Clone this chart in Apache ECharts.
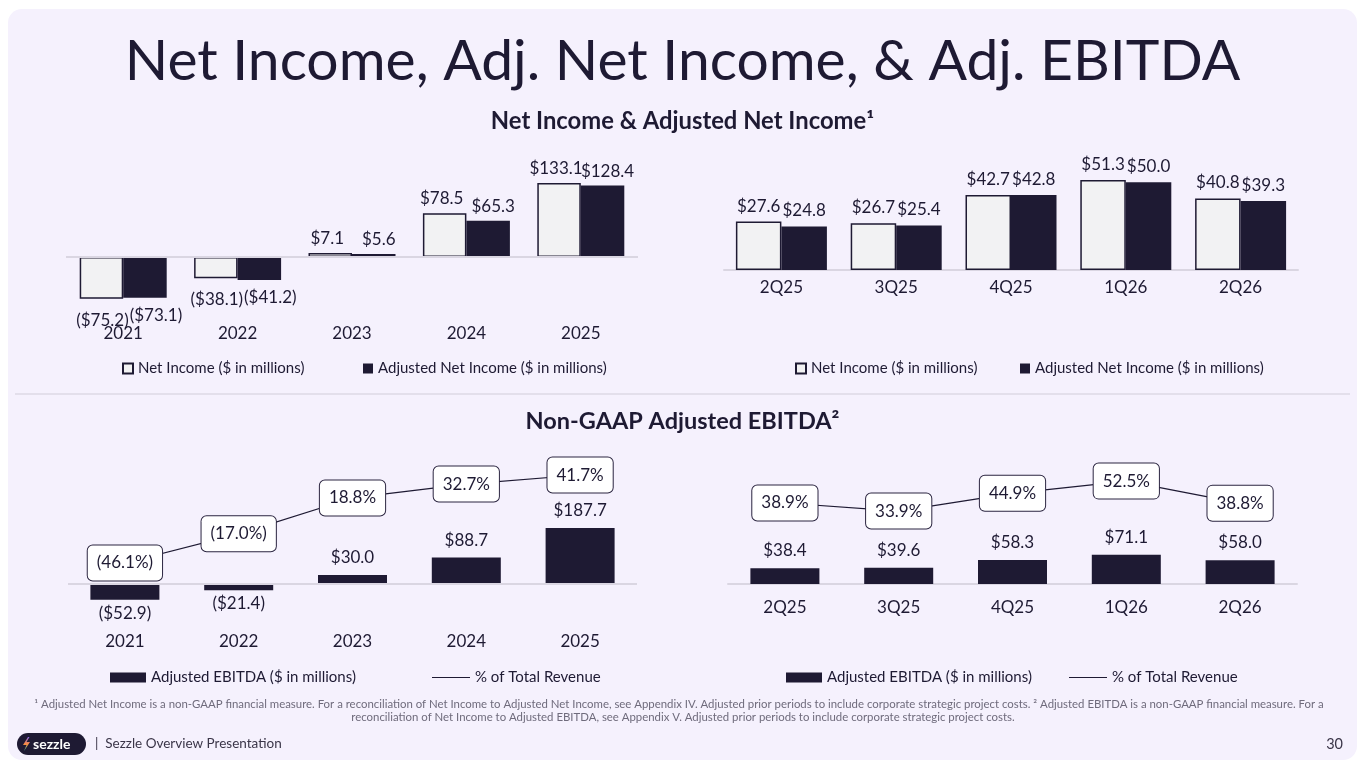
<!DOCTYPE html>
<html>
<head>
<meta charset="utf-8">
<script src="https://cdn.jsdelivr.net/npm/echarts@6/dist/echarts.min.js"></script>
<style>
  html, body { margin:0; padding:0; background:#ffffff; width:1365px; height:768px; overflow:hidden; }
  #panel { position:absolute; left:8px; top:9px; width:1349px; height:751px; background:#f5f1fd; border-radius:14px; }
  #chart { position:absolute; left:0; top:0; width:1365px; height:768px; }
</style>
</head>
<body>
<div id="panel"></div>
<div id="chart"></div>
<script>
// ---------- DATA ----------
const yearCats = ['2021', '2022', '2023', '2024', '2025'];
const quarterCats = ['2Q25', '3Q25', '4Q25', '1Q26', '2Q26'];

const netIncomeAnnual = [-75.2, -38.1, 7.1, 78.5, 133.1];
const adjNetIncomeAnnual = [-73.1, -41.2, 5.6, 65.3, 128.4];

const netIncomeQuarterly = [27.6, 26.7, 42.7, 51.3, 40.8];
const adjNetIncomeQuarterly = [24.8, 25.4, 42.8, 50.0, 39.3];

const adjEbitdaAnnual = [-52.9, -21.4, 30.0, 88.7, 187.7];
const ebitdaMarginAnnual = [-46.1, -17.0, 18.8, 32.7, 41.7];

const adjEbitdaQuarterly = [38.4, 39.6, 58.3, 71.1, 58.0];
const ebitdaMarginQuarterly = [38.9, 33.9, 44.9, 52.5, 38.8];

const NI_NAME = 'Net Income ($ in millions)';
const ANI_NAME = 'Adjusted Net Income ($ in millions)';
const EB_NAME = 'Adjusted EBITDA ($ in millions)';
const PCT_NAME = '% of Total Revenue';

// ---------- STYLE ----------
const DARK = '#1e1a33';
const LIGHT = '#f2f2f3';
const AXIS = '#dad6e2';
const FONT = 'Lato';

function money(v) {
  const a = Math.abs(v).toFixed(1);
  return v < 0 ? '($' + a + ')' : '$' + a;
}
function pct(v) {
  const a = Math.abs(v).toFixed(1);
  return v < 0 ? '(' + a + '%)' : a + '%';
}
function barItems(arr, negDist, negDx) {
  return arr.map(v => v < 0
    ? { value: v, label: { position: 'bottom', distance: negDist, offset: [negDx || 0, 0] } }
    : { value: v });
}
const labelBase = { show: true, position: 'top', fontFamily: FONT, fontSize: 17, color: DARK };

function catAxis(gridIndex, data, margin, onZero) {
  return {
    type: 'category', gridIndex, data,
    axisTick: { show: false },
    axisLine: { show: onZero, onZero: onZero, lineStyle: { color: AXIS, width: 2 } },
    axisLabel: { margin, fontFamily: FONT, fontSize: 17, color: DARK },
    splitLine: { show: false }
  };
}
function valAxis(gridIndex, min, max) {
  return { type: 'value', gridIndex, min, max, show: false, splitLine: { show: false } };
}
const zeroLine = {
  silent: true, symbol: 'none', label: { show: false },
  lineStyle: { color: AXIS, width: 2, type: 'solid' },
  data: [{ yAxis: 0 }]
};
function legendAt(name, left, top, icon, w, h) {
  return {
    data: [{ name, icon }], left, top, padding: 0,
    itemWidth: w, itemHeight: h, selectedMode: false,
    textStyle: { fontFamily: FONT, fontSize: 15, color: DARK }
  };
}
const pctLabel = {
  show: true, position: 'inside', formatter: p => pct(p.value),
  fontFamily: FONT, fontSize: 17, color: DARK, lineHeight: 19,
  backgroundColor: '#ffffff', borderColor: '#2b2540', borderWidth: 1,
  borderRadius: 5, padding: [8, 9, 8, 9]
};

const chart = echarts.init(document.getElementById('chart'));
chart.setOption({
  animation: false,
  textStyle: { fontFamily: FONT },
  grid: [
    { left: 66, top: 150, width: 572, height: 172 },
    { left: 724, top: 150, width: 574, height: 120 },
    { left: 68, top: 460, width: 569, height: 168 },
    { left: 728, top: 460, width: 569, height: 124 }
  ],
  xAxis: [
    catAxis(0, yearCats, 3, false),
    catAxis(1, quarterCats, 9, true),
    catAxis(2, yearCats, 5, false),
    catAxis(3, quarterCats, 15, true)
  ],
  yAxis: [
    valAxis(0, -116.9, 192.4),
    valAxis(1, 0, 68.4),
    valAxis(2, -147.7, 416.1),
    valAxis(2, -111.0, 56.7),
    valAxis(3, 0, 302.4),
    valAxis(3, -11.4, 65.6)
  ],
  legend: [
    legendAt(NI_NAME, 122, 361, 'rect', 10, 10),
    legendAt(ANI_NAME, 363, 361, 'rect', 10, 10),
    legendAt(NI_NAME, 795, 361, 'rect', 10, 10),
    legendAt(ANI_NAME, 1020, 361, 'rect', 10, 10),
    legendAt(EB_NAME, 110, 670, 'rect', 36, 10),
    legendAt(PCT_NAME, 432, 670, 'path://M0,0H100V3H0Z', 38, 10),
    legendAt(EB_NAME, 786, 670, 'rect', 36, 10),
    legendAt(PCT_NAME, 1069, 670, 'path://M0,0H100V3H0Z', 38, 10)
  ],
  series: [
    {
      name: NI_NAME, type: 'bar', xAxisIndex: 0, yAxisIndex: 0,
      barWidth: 43.5, barGap: '0%',
      data: barItems(netIncomeAnnual, 13, 1),
      itemStyle: { color: LIGHT, borderColor: DARK, borderWidth: 1.5 },
      label: Object.assign({}, labelBase, { distance: 6, offset: [-3, 0], formatter: p => money(p.value) }),
      markLine: zeroLine, emphasis: { disabled: true }
    },
    {
      name: ANI_NAME, type: 'bar', xAxisIndex: 0, yAxisIndex: 0,
      barWidth: 43.5, barGap: '0%',
      data: barItems(adjNetIncomeAnnual, 9, 11),
      itemStyle: { color: DARK },
      label: Object.assign({}, labelBase, { distance: 6, offset: [5, 0], formatter: p => money(p.value) }),
      emphasis: { disabled: true }
    },
    {
      name: NI_NAME, type: 'bar', xAxisIndex: 1, yAxisIndex: 1,
      barWidth: 45.5, barGap: '0%',
      data: barItems(netIncomeQuarterly, 8),
      itemStyle: { color: LIGHT, borderColor: DARK, borderWidth: 1.5 },
      label: Object.assign({}, labelBase, { distance: 7, formatter: p => money(p.value) }),
      emphasis: { disabled: true }
    },
    {
      name: ANI_NAME, type: 'bar', xAxisIndex: 1, yAxisIndex: 1,
      barWidth: 45.5, barGap: '0%',
      data: barItems(adjNetIncomeQuarterly, 8),
      itemStyle: { color: DARK },
      label: Object.assign({}, labelBase, { distance: 7, formatter: p => money(p.value) }),
      emphasis: { disabled: true }
    },
    {
      name: EB_NAME, type: 'bar', xAxisIndex: 2, yAxisIndex: 2,
      barWidth: 69,
      data: barItems(adjEbitdaAnnual, 5),
      itemStyle: { color: DARK },
      label: Object.assign({}, labelBase, { distance: 9, formatter: p => money(p.value) }),
      markLine: zeroLine, emphasis: { disabled: true }
    },
    {
      name: PCT_NAME, type: 'line', xAxisIndex: 2, yAxisIndex: 3,
      data: ebitdaMarginAnnual, color: DARK,
      symbol: 'circle', symbolSize: 2,
      lineStyle: { color: DARK, width: 1.2 },
      itemStyle: { color: DARK },
      label: pctLabel, emphasis: { disabled: true }, z: 5
    },
    {
      name: EB_NAME, type: 'bar', xAxisIndex: 3, yAxisIndex: 4,
      barWidth: 69,
      data: barItems(adjEbitdaQuarterly, 5),
      itemStyle: { color: DARK },
      label: Object.assign({}, labelBase, { distance: 9, formatter: p => money(p.value) }),
      emphasis: { disabled: true }
    },
    {
      name: PCT_NAME, type: 'line', xAxisIndex: 3, yAxisIndex: 5,
      data: ebitdaMarginQuarterly, color: DARK,
      symbol: 'circle', symbolSize: 2,
      lineStyle: { color: DARK, width: 1.2 },
      itemStyle: { color: DARK },
      label: pctLabel, emphasis: { disabled: true }, z: 5
    }
  ],
  graphic: [
    { type: 'text', left: 'center', top: 33,
      style: { text: 'Net Income, Adj. Net Income, & Adj. EBITDA', font: '400 57px Lato', fill: DARK } },
    { type: 'text', left: 'center', top: 109,
      style: { text: 'Net Income & Adjusted Net Income¹', font: '700 23.8px Lato', fill: DARK } },
    { type: 'line', shape: { x1: 15, y1: 394, x2: 1350, y2: 394 },
      style: { stroke: '#dcd8e5', lineWidth: 1.5 } },
    { type: 'text', left: 'center', top: 409,
      style: { text: 'Non-GAAP Adjusted EBITDA²', font: '700 23.5px Lato', fill: DARK } },
    { type: 'text', x: 679, y: 704,
      style: { text: '¹ Adjusted Net Income is a non-GAAP financial measure. For a reconciliation of Net Income to Adjusted Net Income, see Appendix IV. Adjusted prior periods to include corporate strategic project costs. ² Adjusted EBITDA is a non-GAAP financial measure. For a',
        font: '400 11.4px Lato', fill: '#6f6b7c', align: 'center', verticalAlign: 'middle' } },
    { type: 'text', x: 683, y: 717,
      style: { text: 'reconciliation of Net Income to Adjusted EBITDA, see Appendix V. Adjusted prior periods to include corporate strategic project costs.',
        font: '400 11.4px Lato', fill: '#6f6b7c', align: 'center', verticalAlign: 'middle' } },
    { type: 'rect', shape: { x: 17, y: 733, width: 69, height: 22, r: 11 },
      style: { fill: DARK } },
    { type: 'polygon', shape: { points: [[28, 737], [23, 745], [26.5, 745], [24, 751], [30, 742], [26.5, 742], [29.5, 737]] },
      style: { fill: new echarts.graphic.LinearGradient(0, 0, 0, 1, [
        { offset: 0, color: '#8a6cf0' }, { offset: 0.5, color: '#ff8a3d' }, { offset: 1, color: '#3fd0a0' }]) } },
    { type: 'text', x: 33, y: 744,
      style: { text: 'sezzle', font: '700 14px Lato', fill: '#ffffff', verticalAlign: 'middle' } },
    { type: 'text', x: 95, y: 744,
      style: { text: '|  Sezzle Overview Presentation', font: '400 13.5px Lato', fill: '#3a3548', verticalAlign: 'middle' } },
    { type: 'text', x: 1343, y: 744,
      style: { text: '30', font: '400 14.5px Lato', fill: '#3a3548', align: 'right', verticalAlign: 'middle' } }
  ]
});
</script>
</body>
</html>
